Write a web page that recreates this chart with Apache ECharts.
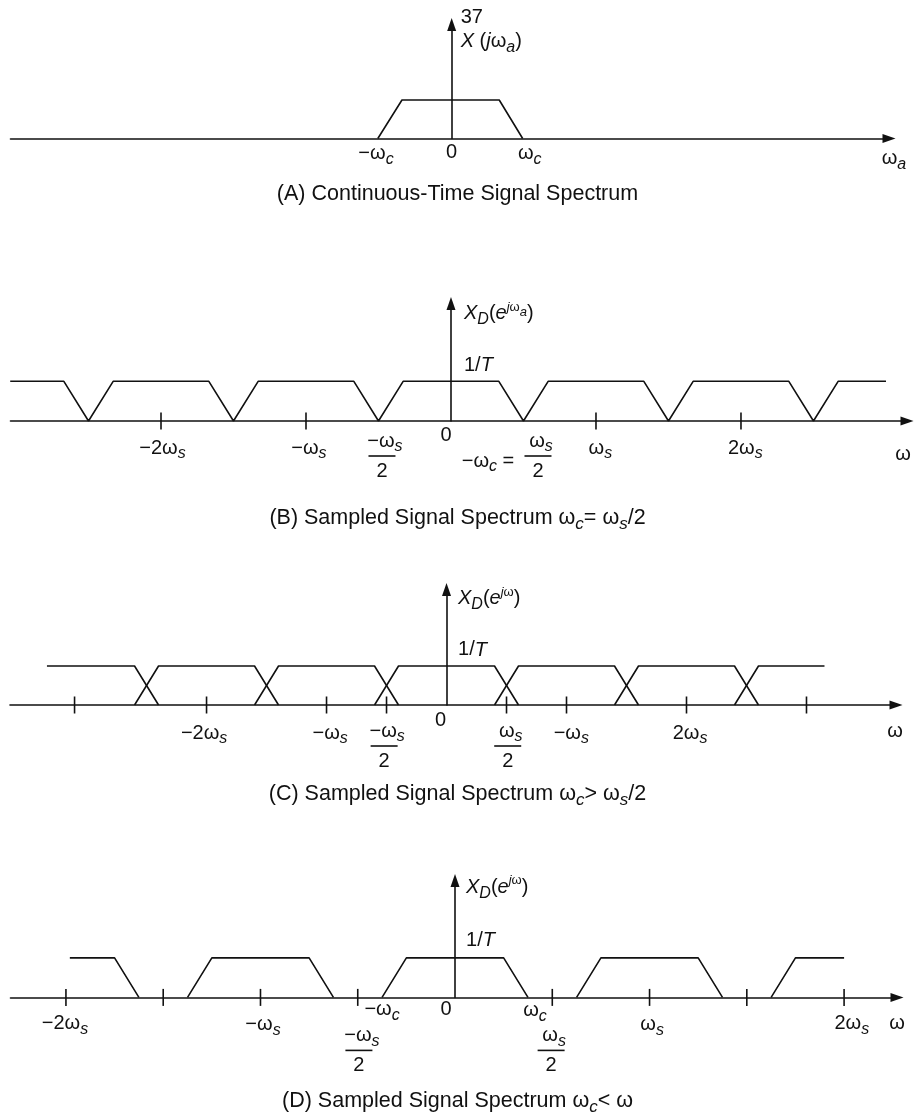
<!DOCTYPE html>
<html>
<head>
<meta charset="UTF-8">
<title>Sampled signal spectra</title>
<script src="https://cdn.jsdelivr.net/npm/echarts@6.0.0/dist/echarts.min.js"></script>
<style>
  html, body { margin: 0; padding: 0; background: #fff; }
  #chart { width: 915px; height: 1114px; }
</style>
</head>
<body>
<div id="chart"></div>
<script>
// ---- data (x in multiples of wc for A, of ws for B/C/D; y: 1 = level 1/T) ----
var aPulse = [[-1.04, 0], [-0.7, 1], [0.67, 1], [1.0, 0]];
var aLabelVals = [-1.066, 0, 1.1];
var aLabelKeys = ['mwc', 'zero', 'wc'];
var aYVals = [2.51];
var aYKeys = ['xja'];

var bTrace = [[-3.04, 1], [-2.67, 1], [-2.5, 0], [-2.33, 1], [-1.67, 1], [-1.5, 0], [-1.33, 1],
  [-0.67, 1], [-0.5, 0], [-0.33, 1], [0.33, 1], [0.5, 0], [0.67, 1], [1.33, 1], [1.5, 0],
  [1.67, 1], [2.33, 1], [2.5, 0], [2.67, 1], [3.0, 1]];
var bTicks = [-2, -1, 1, 2];
var bLabelVals = [-1.99, -0.98, -0.476, -0.034, 0.255, 0.6, 1.03, 2.03];
var bLabelKeys = ['m2ws', 'mws', 'mhalf', 'zero', 'mwceq', 'half', 'ws', 'tws'];
var bYVals = [1.41, 2.70];
var bYKeys = ['invT', 'xda'];

var cPulses = [
  [[-3.33, 1], [-2.6, 1], [-2.4, 0]],
  [[-2.6, 0], [-2.4, 1], [-1.6, 1], [-1.4, 0]],
  [[-1.6, 0], [-1.4, 1], [-0.6, 1], [-0.4, 0]],
  [[-0.6, 0], [-0.4, 1], [0.4, 1], [0.6, 0]],
  [[0.4, 0], [0.6, 1], [1.4, 1], [1.6, 0]],
  [[1.4, 0], [1.6, 1], [2.4, 1], [2.6, 0]],
  [[2.4, 0], [2.6, 1], [3.15, 1]]
];
var cTicks = [-3.1, -2, -1, -0.5, 0.5, 1, 2, 3];
var cLabelVals = [-2.02, -0.97, -0.52, -0.05, 0.51, 1.04, 2.03];
var cLabelKeys = ['m2ws', 'mws', 'mhalf', 'zero', 'half', 'mws', 'tws'];
var cYVals = [1.41, 2.72];
var cYKeys = ['invT', 'xd'];

var dPulses = [
  [[-1.98, 1], [-1.75, 1], [-1.625, 0]],
  [[-1.375, 0], [-1.25, 1], [-0.75, 1], [-0.625, 0]],
  [[-0.375, 0], [-0.25, 1], [0.25, 1], [0.375, 0]],
  [[0.625, 0], [0.75, 1], [1.25, 1], [1.375, 0]],
  [[1.625, 0], [1.75, 1], [2.0, 1]]
];
var dTicks = [-2, -1.5, -1, -0.5, 0.5, 1, 1.5, 2];
var dLabelVals = [-2.005, -0.987, -0.494, -0.375, -0.046, 0.411, 0.494, 1.013, 2.04];
var dLabelKeys = ['m2ws', 'mws', 'mhalf', 'mwc', 'zero', 'wc', 'half', 'ws', 'tws'];
var dYVals = [1.43, 2.79];
var dYKeys = ['invT', 'xd'];

var TEXT = {
  zero: '{t|0}',
  mwc: '{t|−ω}{sub|c}',
  wc: '{t|ω}{sub|c}',
  m2ws: '{t|−2ω}{sub|s}',
  mws: '{t|−ω}{sub|s}',
  ws: '{t|ω}{sub|s}',
  tws: '{t|2ω}{sub|s}',
  mhalf: '{pd|\u00a0}{t|−ω}{sub|s}\n{bar|\u00a0}\n{t|2}',
  half: '{pd|\u00a0}{t|ω}{sub|s}\n{bar|\u00a0}\n{t|2}',
  mwceq: '{t|−ω}{sub|c}{t| =}',
  xja: '{ti|X}{t| (}{ti|j}{t|ω}{sub|a}{t|)}',
  xda: '{ti|X}{sub|D}{t|(}{ti|e}{supi|j}{sup|ω}{supsub|a}{t|)}',
  xd: '{ti|X}{sub|D}{t|(}{ti|e}{supi|j}{sup|ω}{t|)}',
  invT: '{t|1/}{ti|T}',
  wa: '{t|ω}{sub|a}',
  w: '{t|ω}',
  n37: '{t|37}'
};

var TITLES = [
  '{T|(A) Continuous-Time Signal Spectrum}',
  '{T|(B) Sampled Signal Spectrum ω}{Ts|c}{T|= ω}{Ts|s}{T|/2}',
  '{T|(C) Sampled Signal Spectrum ω}{Ts|c}{T|> ω}{Ts|s}{T|/2}',
  '{T|(D) Sampled Signal Spectrum ω}{Ts|c}{T|< ω}'
];

// ---- layout ----
var INK = '#111111';
var FONT = '"Liberation Sans", Arial, Helvetica, sans-serif';
var grids = [
  {left: 10.5, right: 26, top: 24.5, bottom: 975.5},
  {left: 10.5, right: 8, top: 303.5, bottom: 693},
  {left: 10, right: 19, top: 589.5, bottom: 409},
  {left: 10.5, right: 18, top: 880.5, bottom: 116.6}
];
var xRanges = [[-6.214, 6.16], [-3.038, 3.145], [-3.638, 3.746], [-2.285, 2.272]];
var yMax = 2.96;
var yLabelGap = [9, 13, 11.5, 11];
var dyA = {mwc: 15, zero: 13.5, wc: 15};
var dyB = {m2ws: 26.5, mws: 27, mhalf: 19.5, zero: 14, mwceq: 39.5, half: 19.5, ws: 27, tws: 26.5};
var dyC = {m2ws: 27.5, mws: 27.5, mhalf: 25.5, zero: 15, half: 25.5, tws: 27.5};
var dyD = {m2ws: 26, mws: 27, mhalf: 38, mwc: 11, zero: 11.5, wc: 13, half: 38, ws: 27, tws: 26};
var titleTops = [176, 500.5, 776.5, 1083.5];

var RICH = {
  t: {fontFamily: FONT, fontSize: 20, lineHeight: 24, color: INK},
  ti: {fontFamily: FONT, fontSize: 20, fontStyle: 'italic', lineHeight: 24, color: INK},
  sub: {fontFamily: FONT, fontSize: 16, fontStyle: 'italic', lineHeight: 24, padding: [12, 0, 0, 0], color: INK},
  sup: {fontFamily: FONT, fontSize: 13, lineHeight: 24, padding: [0, 0, 13, 0], color: INK},
  supi: {fontFamily: FONT, fontSize: 13, fontStyle: 'italic', lineHeight: 24, padding: [0, 0, 13, 0], color: INK},
  supsub: {fontFamily: FONT, fontSize: 13, fontStyle: 'italic', lineHeight: 24, padding: [0, 0, 2, 0], color: INK},
  bar: {fontSize: 1, lineHeight: 6, width: 27, height: 1.6, backgroundColor: INK},
  pd: {fontSize: 1, lineHeight: 24, width: 6}
};
for (var g = 1; g <= 40; g++) {
  RICH['g' + g] = {fontSize: 1, lineHeight: g};
}
var TRICH = {
  T: {fontFamily: FONT, fontSize: 21.5, lineHeight: 26, color: INK},
  Ts: {fontFamily: FONT, fontSize: 17, fontStyle: 'italic', lineHeight: 26, padding: [11, 0, 0, 0], color: INK}
};

function lab(key, dy) {
  var n = Math.round(dy - 12);
  return (n > 0 ? '{g' + n + '|\u00a0}\n' : '') + TEXT[key];
}

function pick(vals, v) {
  var best = 0;
  for (var i = 1; i < vals.length; i++) {
    if (Math.abs(vals[i] - v) < Math.abs(vals[best] - v)) best = i;
  }
  return best;
}

var axisLineStyle = {color: INK, width: 1.6};

function makeX(i, vals, keys, dy, nameKey, nameDy, nameGap) {
  return {
    type: 'value', gridIndex: i, min: xRanges[i][0], max: xRanges[i][1],
    axisLine: {show: true, symbol: ['none', 'triangle'], symbolSize: [9, 13], lineStyle: axisLineStyle},
    axisTick: {show: false},
    splitLine: {show: false},
    axisLabel: {
      show: true, margin: 0, customValues: vals, color: INK, rich: RICH,
      formatter: function (v) {
        var k = keys[pick(vals, v)];
        return lab(k, dy[k]);
      }
    },
    name: lab(nameKey, nameDy), nameLocation: 'end', nameGap: nameGap,
    nameTextStyle: {align: 'center', verticalAlign: 'top', rich: RICH}
  };
}

function makeY(i) {
  return {
    type: 'value', gridIndex: i, min: 0, max: yMax,
    axisLine: {show: true, onZero: true, symbol: ['none', 'triangle'], symbolSize: [9, 13], lineStyle: axisLineStyle},
    axisTick: {show: false},
    splitLine: {show: false},
    axisLabel: {show: false}
  };
}

var lineStyle = {color: INK, width: 1.6};
function traceSeries(data, i) {
  return {type: 'line', xAxisIndex: i, yAxisIndex: i, data: data, symbol: 'none',
    lineStyle: lineStyle, silent: true, z: 3};
}
function tickSeries(ticks, i) {
  return {type: 'scatter', xAxisIndex: i, yAxisIndex: i, symbol: 'rect', symbolSize: [1.6, 17],
    itemStyle: {color: INK, opacity: 1}, silent: true,
    data: ticks.map(function (t) { return [t, 0]; })};
}
// level labels written beside the vertical axis (at x = 0)
function yNoteSeries(vals, keys, i) {
  return {type: 'scatter', xAxisIndex: i, yAxisIndex: i, symbolSize: 0, silent: true,
    itemStyle: {color: INK, opacity: 1},
    data: vals.map(function (v, k) { return {value: [0, v], key: keys[k]}; }),
    label: {show: true, position: 'right', distance: yLabelGap[i], color: INK, opacity: 1, rich: RICH,
      formatter: function (p) { return TEXT[p.data.key]; }}};
}

var xAxes = [
  makeX(0, aLabelVals, aLabelKeys, dyA, 'wa', 20, 5),
  makeX(1, bLabelVals, bLabelKeys, dyB, 'w', 32.5, -4),
  makeX(2, cLabelVals, cLabelKeys, dyC, 'w', 25.5, -1),
  makeX(3, dLabelVals, dLabelKeys, dyD, 'w', 26, 0)
];
var yAxes = [makeY(0), makeY(1), makeY(2), makeY(3)];
yAxes[0].name = TEXT.n37;
yAxes[0].nameLocation = 'end';
yAxes[0].nameGap = 7.5;
yAxes[0].nameTextStyle = {align: 'left', verticalAlign: 'middle', padding: [0, 0, 0, 9], rich: RICH};

var series = [traceSeries(aPulse, 0), traceSeries(bTrace, 1)];
cPulses.forEach(function (p) { series.push(traceSeries(p, 2)); });
dPulses.forEach(function (p) { series.push(traceSeries(p, 3)); });
series.push(tickSeries(bTicks, 1), tickSeries(cTicks, 2), tickSeries(dTicks, 3));
series.push(yNoteSeries(aYVals, aYKeys, 0), yNoteSeries(bYVals, bYKeys, 1),
  yNoteSeries(cYVals, cYKeys, 2), yNoteSeries(dYVals, dYKeys, 3));

var chart = echarts.init(document.getElementById('chart'));
chart.setOption({
  animation: false,
  backgroundColor: '#fff',
  title: TITLES.map(function (t, i) {
    return {text: t, left: 'center', top: titleTops[i], textStyle: {rich: TRICH, fontWeight: 'normal'}};
  }),
  grid: grids,
  xAxis: xAxes,
  yAxis: yAxes,
  series: series
});
</script>
</body>
</html>
